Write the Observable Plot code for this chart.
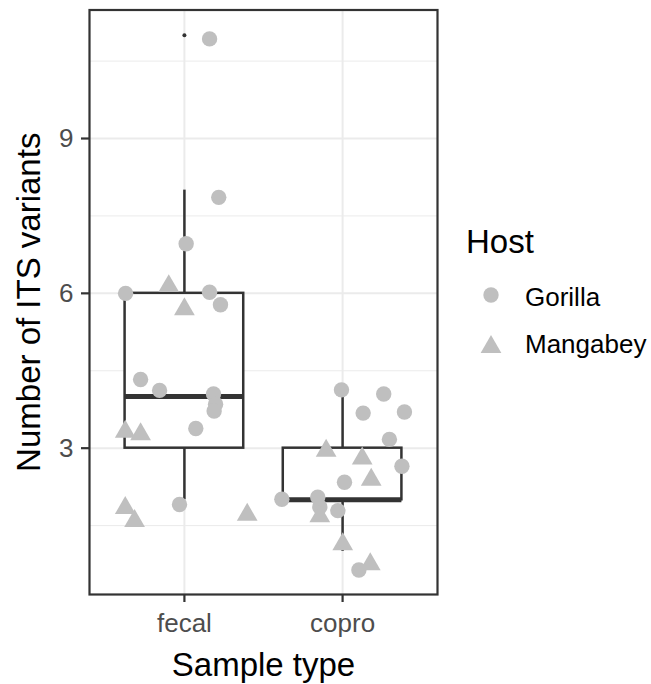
<!DOCTYPE html>
<html><head><meta charset="utf-8">
<script src="https://cdn.jsdelivr.net/npm/d3@7"></script>
<script src="https://cdn.jsdelivr.net/npm/@observablehq/plot@0.6"></script>
<style>
body{margin:0;background:#fff;}
#wrap{position:relative;width:651px;height:684px;font-family:"Liberation Sans",Arial,sans-serif;}
#wrap svg{font-family:"Liberation Sans",Arial,sans-serif;}
#legend{position:absolute;left:0;top:0;pointer-events:none;}
</style></head><body><div id="wrap"></div>
<script>
// ---- data ----
const sampleTypes = ["fecal", "copro"];
const boxQ1 = [3, 2];
const boxMedian = [4, 2];
const boxQ3 = [6, 3];
const whiskerLow = [2, 1];
const whiskerHigh = [8, 4];
const outlierSample = ["fecal"];
const outlierValue = [11];

const hosts = ["Gorilla", "Mangabey"];
const yTicks = [3, 6, 9];
const yMinorTicks = [1.5, 4.5, 7.5, 10.5];

// jittered observations (horizontal jitter offset from category, jittered value)
const pointSample = [
  "fecal","fecal","fecal","fecal","fecal","fecal","fecal","fecal","fecal","fecal",
  "fecal","fecal","fecal","fecal","fecal","fecal","fecal","fecal","fecal","fecal",
  "copro","copro","copro","copro","copro","copro","copro","copro","copro","copro",
  "copro","copro","copro","copro","copro","copro","copro","copro"
];
const pointHost = [
  "Gorilla","Gorilla","Gorilla","Mangabey","Gorilla","Gorilla","Gorilla","Mangabey","Gorilla","Gorilla",
  "Gorilla","Gorilla","Gorilla","Mangabey","Mangabey","Gorilla","Mangabey","Mangabey","Gorilla","Mangabey",
  "Gorilla","Gorilla","Gorilla","Gorilla","Gorilla","Mangabey","Mangabey","Gorilla","Mangabey","Gorilla",
  "Gorilla","Gorilla","Gorilla","Mangabey","Gorilla","Mangabey","Mangabey","Gorilla"
];
const pointJitter = [
  0.159, 0.217, 0.011, -0.099, -0.372, 0.159, 0.228, 0.000, -0.277, -0.157,
  0.184, 0.197, 0.188, -0.374, -0.277, 0.072, -0.374, -0.315, -0.031, 0.397,
  -0.007, 0.260, 0.130, 0.391, 0.296, -0.104, 0.124, 0.375, 0.181, 0.012,
  -0.384, -0.157, -0.144, -0.144, -0.030, 0.001, 0.175, 0.103
];
const pointValue = [
  10.93, 7.86, 6.96, 6.14, 6.00, 6.02, 5.78, 5.69, 4.33, 4.12,
  4.05, 3.85, 3.72, 3.32, 3.27, 3.38, 1.84, 1.59, 1.91, 1.71,
  4.13, 4.05, 3.68, 3.70, 3.17, 2.95, 2.80, 2.65, 2.39, 2.34,
  2.01, 2.05, 1.86, 1.68, 1.79, 1.14, 0.75, 0.64
];

// ---- build tables ----
const pos = s => sampleTypes.indexOf(s) + 1;
const boxes = sampleTypes.map((s, i) => ({
  sample: s, q1: boxQ1[i], med: boxMedian[i], q3: boxQ3[i], lo: whiskerLow[i], hi: whiskerHigh[i]
}));
const outliers = outlierSample.map((s, i) => ({sample: s, value: outlierValue[i]}));
const points = pointSample.map((s, i) => ({
  sample: s, host: pointHost[i], jitter: pointJitter[i], value: pointValue[i]
}));

const halfWidth = 0.375;
const dark = "#333333";
const pointFill = "#bfbfbf";
const pointR = 7.7;

const chart = Plot.plot({
  width: 651,
  height: 684,
  marginLeft: 89,
  marginRight: 214,
  marginTop: 9.5,
  marginBottom: 90,
  style: {fontFamily: "'Liberation Sans', Arial, sans-serif", background: "#fff"},
  x: {domain: [0.4, 2.6]},
  y: {domain: [0.165, 11.49]},
  symbol: {domain: hosts, range: ["circle", "triangle"]},
  marks: [
    Plot.gridY(yMinorTicks, {stroke: "#ebebeb", strokeOpacity: 1, strokeWidth: 1}),
    Plot.gridY(yTicks, {stroke: "#ebebeb", strokeOpacity: 1, strokeWidth: 2}),
    Plot.gridX([1, 2], {stroke: "#ebebeb", strokeOpacity: 1, strokeWidth: 2}),
    // whiskers
    Plot.ruleX(boxes, {x: d => pos(d.sample), y1: "q3", y2: "hi", stroke: dark, strokeWidth: 2.5}),
    Plot.ruleX(boxes, {x: d => pos(d.sample), y1: "lo", y2: "q1", stroke: dark, strokeWidth: 2.5}),
    // boxes
    Plot.rect(boxes, {x1: d => pos(d.sample) - halfWidth, x2: d => pos(d.sample) + halfWidth,
      y1: "q1", y2: "q3", fill: "white", stroke: dark, strokeWidth: 2.5}),
    Plot.ruleY(boxes, {y: "med", x1: d => pos(d.sample) - halfWidth, x2: d => pos(d.sample) + halfWidth,
      stroke: dark, strokeWidth: 5}),
    Plot.dot(outliers, {x: d => pos(d.sample), y: "value", r: 2, fill: dark, stroke: "none"}),
    // jittered points
    Plot.dot(points, {x: d => pos(d.sample) + d.jitter, y: "value", symbol: "host",
      fill: pointFill, stroke: "none", r: pointR}),
    Plot.frame({stroke: dark, strokeWidth: 2.2}),
    Plot.axisY(yTicks, {tickSize: 8, tickPadding: 8, fontSize: 26, fill: "#4d4d4d",
      stroke: dark, strokeWidth: 2.2, label: null, tickFormat: d => String(d)}),
    Plot.axisX([1, 2], {tickSize: 8, tickPadding: 11, fontSize: 26, fill: "#4d4d4d",
      stroke: dark, strokeWidth: 2.2, label: null, tickFormat: d => sampleTypes[d - 1]}),
    Plot.text(["Sample type"], {text: d => d, frameAnchor: "bottom", lineAnchor: "bottom",
      dy: 81, fontSize: 33, fill: "#000"}),
    Plot.text(["Number of ITS variants"], {text: d => d, frameAnchor: "left", textAnchor: "middle",
      lineAnchor: "middle", rotate: -90, dx: -60, fontSize: 33, fill: "#000"})
  ]
});

const wrap = document.getElementById("wrap");
wrap.appendChild(chart);

// ---- legend (right of the panel) ----
const leg = d3.select(wrap).append("svg").attr("id", "legend")
  .attr("width", 651).attr("height", 684);
leg.append("text").attr("x", 466).attr("y", 253)
  .attr("font-size", 33).attr("fill", "#000").text("Host");
const symbolTypes = [d3.symbolCircle, d3.symbolTriangle];
hosts.forEach((h, i) => {
  leg.append("path")
    .attr("transform", `translate(491,${295 + i * 52})`)
    .attr("d", d3.symbol(symbolTypes[i], Math.PI * pointR * pointR)())
    .attr("fill", pointFill);
  leg.append("text").attr("x", 525).attr("y", 306 + i * 47)
    .attr("font-size", 26).attr("fill", "#000").text(h);
});
</script></body></html>
